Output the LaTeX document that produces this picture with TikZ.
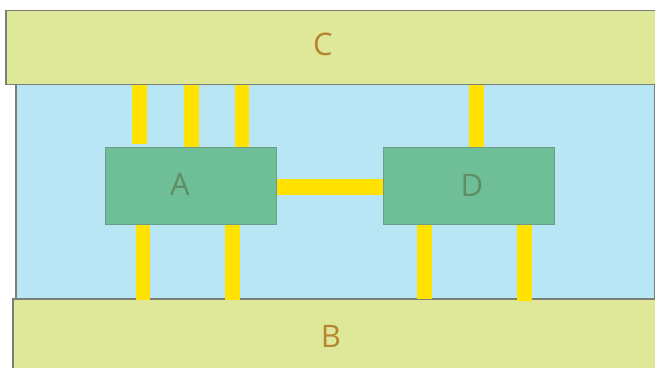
\documentclass[tikz,border=0pt]{standalone}
\usepackage{fontspec}
\setmainfont{Open Sans}
\definecolor{barfill}{HTML}{DFE899}
\definecolor{bluefill}{HTML}{B9E6F5}
\definecolor{greenfill}{HTML}{6EBF98}
\definecolor{wire}{HTML}{FFE200}
\definecolor{edge}{HTML}{7A7F7A}
\definecolor{gedge}{HTML}{6C9C88}
\definecolor{brown}{HTML}{B5852F}
\definecolor{gtext}{HTML}{5E8E62}
\begin{document}
\begin{tikzpicture}[x=1pt,y=-1pt,
  layer/.style={draw=edge, line width=1.5pt, fill=barfill, inner sep=0pt, anchor=north west},
  chip/.style={draw=gedge, line width=1.2pt, fill=greenfill, inner sep=0pt, anchor=north west,
     minimum width=171pt, minimum height=77pt},
  lbl/.style={font=\fontsize{31}{31}\selectfont, text=brown},
  clbl/.style={font=\fontsize{31}{31}\selectfont, text=gtext},
  wirebar/.style={draw=wire, line width=14.5pt}]
\useasboundingbox (0,0) rectangle (655,367);
% substrate region
\node[layer, fill=bluefill, minimum width=639pt, minimum height=215pt] (S) at (15,83) {};
\node[layer, minimum width=652pt, minimum height=74pt] (C) at (5,9.5) {};
\node[layer, minimum width=646pt, minimum height=72pt] (B) at (12,298) {};
% chip outlines (invisible) used as wire anchors
\path (105,147) node[chip, draw=none, fill=none] (A) {};
\path (383,147) node[chip, draw=none, fill=none] (D) {};
% wires
\draw[wirebar] (C.south -| 139.5,0) -- ([yshift=3pt]A.north -| 139.5,0);
\draw[wirebar] (C.south -| 191.5,0) -- (A.north -| 191.5,0);
\draw[wirebar] (C.south -| 242,0) -- ([yshift=-2pt]A.north -| 242,0);
\draw[wirebar] (C.south -| 476.5,0) -- (D.north -| 476.5,0);
\draw[wirebar] (A.south -| 143,0) -- ([yshift=-2pt]B.north -| 143,0);
\draw[wirebar] (A.south -| 232.5,0) -- ([yshift=-2pt]B.north -| 232.5,0);
\draw[wirebar] (D.south -| 424.5,0) -- ([yshift=-1pt]B.north -| 424.5,0);
\draw[wirebar] (D.south -| 524.5,0) -- ([yshift=-3pt]B.north -| 524.5,0);
\draw[draw=wire, line width=16pt] (A.east |- 0,187) -- (D.west |- 0,187);
% chips drawn on top
\node[chip] (A2) at (105,147) {};
\node[chip] (D2) at (383,147) {};
% labels
\node[lbl] at (323,44) {C};
\node[lbl] at (331,336) {B};
\node[clbl] at (180,184) {A};
\node[clbl] at (472,185) {D};
\end{tikzpicture}
\end{document}
